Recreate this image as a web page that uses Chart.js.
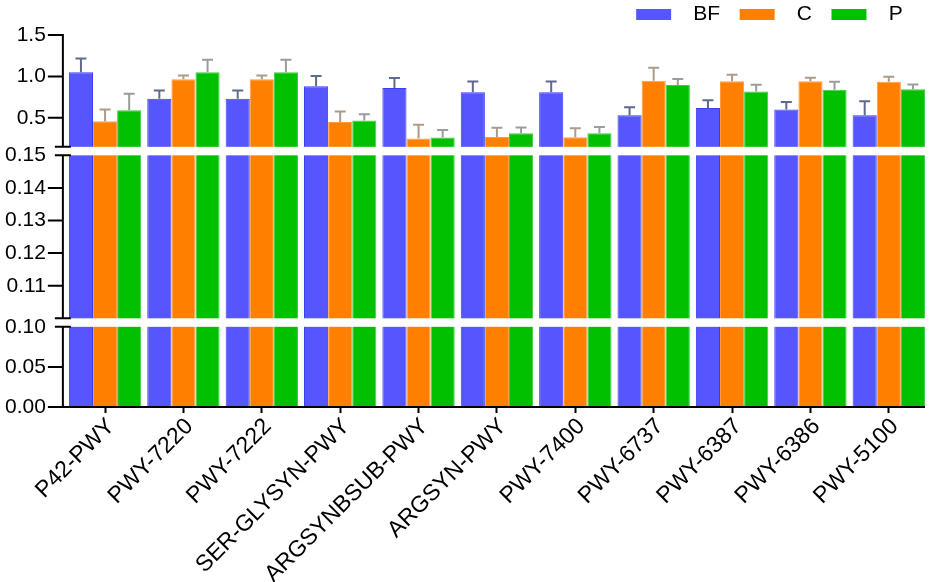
<!DOCTYPE html>
<html lang="en">
<head>
<meta charset="UTF-8" />
<title>Pathway abundance · BF / C / P</title>
<script src="https://cdn.jsdelivr.net/npm/chart.js"></script>
<style>
  html, body { margin: 0; padding: 0; background: #fff; }
  #wrap { width: 935px; height: 582px; }
</style>
</head>
<body>
<div id="wrap"><canvas id="chart"></canvas></div>
<script>
  // -------- data -------- //
  const categories = ["P42-PWY", "PWY-7220", "PWY-7222", "SER-GLYSYN-PWY", "ARGSYNBSUB-PWY",
    "ARGSYN-PWY", "PWY-7400", "PWY-6737", "PWY-6387", "PWY-6386", "PWY-5100"];
  const seriesNames = ["BF", "C", "P"];

  const bfValues = [1.05, 0.73, 0.73, 0.88, 0.86, 0.81, 0.81, 0.53, 0.62, 0.60, 0.53];
  const bfErrors = [0.165, 0.10, 0.10, 0.125, 0.12, 0.13, 0.13, 0.097, 0.093, 0.092, 0.17];
  const cValues = [0.46, 0.965, 0.965, 0.45, 0.25, 0.27, 0.265, 0.947, 0.943, 0.943, 0.935];
  const cErrors = [0.14, 0.045, 0.045, 0.126, 0.166, 0.11, 0.11, 0.157, 0.077, 0.04, 0.06];
  const pValues = [0.59, 1.05, 1.05, 0.467, 0.262, 0.314, 0.314, 0.895, 0.818, 0.838, 0.846];
  const pErrors = [0.2, 0.15, 0.15, 0.077, 0.09, 0.07, 0.075, 0.073, 0.08, 0.097, 0.055];

  // y ticks: value, which axis segment it belongs to, printed label
  const yTickValues = [0, 0.05, 0.10, 0.11, 0.12, 0.13, 0.14, 0.15, 0.5, 1.0, 1.5];
  const yTickSegments = [0, 0, 0, 1, 1, 1, 1, 1, 2, 2, 2];
  const yTickLabels = ["0.00", "0.05", "0.10", "0.11", "0.12", "0.13", "0.14", "0.15", "0.5", "1.0", "1.5"];

  // -------- broken axis layout (bottom to top) -------- //
  const segLow = [0, 0.10, 0.15];
  const segHigh = [0.10, 0.15, 1.5];
  const segSize = [80, 162.5, 111.5];
  const segGap = 8.5;
  const breakTicks = [2, 7]; // these ticks are drawn as break marks
  const axisShift = 3;       // axis lines sit a little left of the plot area

  const fillColors = ["#5656ff", "#ff8000", "#00c000"];
  const edgeColors = ["#3c3cf5", "#ff9a40", "#3ccc3c"];
  const errColors = ["#5f6b8c", "#ab9c8a", "#9c9c9c"];
  const FONT = "'Liberation Sans', Arial, sans-serif";

  function segStart(i) {
    let s = 0;
    for (let k = 0; k < i; k++) s += segSize[k] + segGap;
    return s;
  }
  function toDisplay(v, seg) {
    if (seg === undefined) {
      seg = 0;
      for (let k = 0; k < segLow.length; k++) if (v >= segLow[k]) seg = k;
    }
    const f = (Math.min(v, segHigh[seg]) - segLow[seg]) / (segHigh[seg] - segLow[seg]);
    return segStart(seg) + f * segSize[seg];
  }
  const axisMax = segStart(segLow.length - 1) + segSize[segLow.length - 1];

  // -------- plugin: gaps, error bars, broken axes -------- //
  const brokenAxis = {
    id: "brokenAxis",
    afterDatasetsDraw(chart) {
      const { ctx, chartArea, scales } = chart;
      const y = scales.y;
      ctx.save();
      // white bands across the bars at each break
      ctx.fillStyle = "#fff";
      for (let i = 0; i < segLow.length - 1; i++) {
        const top = y.getPixelForValue(segStart(i + 1));
        const bot = y.getPixelForValue(segStart(i) + segSize[i]);
        ctx.fillRect(chartArea.left - axisShift + 1, top, chartArea.right - chartArea.left + axisShift, bot - top);
      }
      // error bars (upper only)
      chart.data.datasets.forEach((ds, di) => {
        const meta = chart.getDatasetMeta(di);
        ctx.strokeStyle = errColors[di];
        ctx.lineWidth = 2;
        meta.data.forEach((bar, i) => {
          const yTop = y.getPixelForValue(toDisplay(ds.values[i] + ds.errors[i]));
          ctx.beginPath();
          ctx.moveTo(bar.x, bar.y);
          ctx.lineTo(bar.x, yTop);
          ctx.moveTo(bar.x - 5.5, yTop);
          ctx.lineTo(bar.x + 5.5, yTop);
          ctx.stroke();
        });
      });
      ctx.restore();
    },
    afterDraw(chart) {
      const { ctx, chartArea, scales } = chart;
      const y = scales.y;
      const x0 = chartArea.left - axisShift;
      ctx.save();
      ctx.strokeStyle = "#000";
      ctx.lineWidth = 2;
      // x axis line
      ctx.beginPath();
      ctx.moveTo(x0 - 1, chartArea.bottom);
      ctx.lineTo(chartArea.right - axisShift, chartArea.bottom);
      ctx.stroke();
      // y axis segments with break marks
      for (let i = 0; i < segLow.length; i++) {
        const b = y.getPixelForValue(segStart(i));
        const t = y.getPixelForValue(segStart(i) + segSize[i]);
        ctx.beginPath();
        ctx.moveTo(x0, b);
        ctx.lineTo(x0, t - (i === segLow.length - 1 ? 1 : 0));
        if (i > 0) { ctx.moveTo(x0 - 8, b); ctx.lineTo(x0 + 8, b); }
        if (i < segLow.length - 1) { ctx.moveTo(x0 - 8, t); ctx.lineTo(x0 + 8, t); }
        ctx.stroke();
      }
      // y tick marks
      ctx.beginPath();
      y.ticks.forEach((tk, i) => {
        if (breakTicks.includes(i)) return;
        const py = y.getPixelForValue(tk.value);
        ctx.moveTo(x0 - 15, py);
        ctx.lineTo(x0, py);
      });
      ctx.stroke();
      ctx.restore();
    }
  };

  const datasets = [
    { values: bfValues, errors: bfErrors },
    { values: cValues, errors: cErrors },
    { values: pValues, errors: pErrors }
  ].map((s, i) => ({
    label: seriesNames[i],
    values: s.values,
    errors: s.errors,
    data: s.values.map((v) => toDisplay(v)),
    backgroundColor: fillColors[i],
    borderColor: edgeColors[i],
    borderWidth: 1,
    categoryPercentage: 0.923,
    barPercentage: 1.0
  }));

  new Chart(document.getElementById("chart"), {
    type: "bar",
    data: { labels: categories, datasets },
    plugins: [brokenAxis],
    options: {
      responsive: true,
      maintainAspectRatio: false,
      animation: false,
      layout: { padding: { left: 5, right: 7, top: 0, bottom: -6 } },
      plugins: {
        tooltip: { enabled: false },
        legend: {
          position: "top",
          align: "end",
          labels: {
            boxWidth: 35,
            boxHeight: 11,
            padding: 2,
            color: "#000",
            font: { family: FONT, size: 21 },
            generateLabels: (chart) => {
              const items = Chart.defaults.plugins.legend.labels.generateLabels(chart);
              return items.map((item, i) => {
                item.text = "  " + item.text + (i === items.length - 1 ? "    " : "   ");
                item.lineWidth = 0;
                return item;
              });
            }
          }
        }
      },
      scales: {
        x: {
          grid: { display: true, drawOnChartArea: false, offset: false, tickLength: 6, tickWidth: 2, tickColor: "#000" },
          border: { display: false },
          ticks: {
            color: "#000",
            font: { family: FONT, size: 23 },
            maxRotation: 45,
            minRotation: 45,
            autoSkip: false,
            padding: 0,
            labelOffset: 6
          }
        },
        y: {
          min: 0,
          max: axisMax,
          afterFit: (scale) => { scale.paddingTop = 35; },
          afterBuildTicks: (scale) => {
            scale.ticks = yTickValues.map((v, i) => ({ value: toDisplay(v, yTickSegments[i]) }));
          },
          // tick marks are drawn by the plugin; tickLength only reserves the room
          grid: { display: false, drawTicks: true, tickLength: 20 },
          border: { display: false },
          ticks: {
            color: "#000",
            font: { family: FONT, size: 21 },
            padding: 0,
            callback: (value, index) => yTickLabels[index]
          }
        }
      }
    }
  });
</script>
</body>
</html>
